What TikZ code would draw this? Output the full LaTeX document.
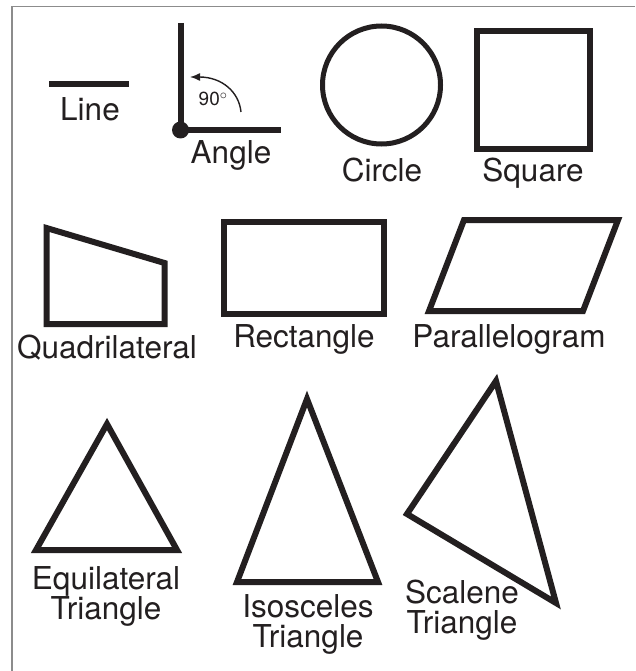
\documentclass[tikz,border=0pt]{standalone}
\usepackage{fontspec}
\setmainfont{TeX Gyre Heros}
\usetikzlibrary{arrows.meta}
\definecolor{ink}{HTML}{231F20}
\definecolor{frame}{HTML}{8C8C8C}
\tikzset{
  shapeline/.style={draw=ink, line width=6pt, line join=miter},
  lbl/.style={text=ink, inner sep=0pt, anchor=base, align=center,
    font=\fontsize{31.5}{30}\selectfont},
  small/.style={text=ink, inner sep=0pt, anchor=base west,
    font=\fontsize{19}{19}\selectfont},
}
\begin{document}
\begin{tikzpicture}[x=1pt,y=-1pt]
\useasboundingbox (0,0) rectangle (635,671);
\fill[white] (0,0) rectangle (635,671);
% frame (top and left only)
\coordinate (ftl) at (12,6.5);
\coordinate (ftr) at (635,6.5);
\coordinate (fbl) at (12,671);
\draw[frame, line width=1.8pt] (ftr) -- (ftl) -- (fbl);

% Line
\coordinate (l1) at (49,84.5);
\coordinate (l2) at (129,84.5);
\draw[shapeline] (l1) -- (l2);
\node[lbl] (tline) at (90,121) {Line};

% Angle
\coordinate (av) at (180.5,130);
\coordinate (atop) at (180.5,23);
\coordinate (aright) at (281,130);
\draw[shapeline] (atop) -- (av) -- (aright);
\fill[ink] (av) circle [radius=8.5pt];
\coordinate (arcs) at (241,112);
\coordinate (arce) at (190,77);
\draw[ink, line width=1.4pt, -{Latex[length=10pt,width=8pt]}] (arcs) .. controls (239,92) and (222,77) .. (arce);
\node[small] (t90) at (198.5,106) {90$^{\circ}$};
\node[lbl] (tangle) at (231,164) {Angle};

% Circle
\coordinate (cc) at (381.5,85);
\draw[draw=ink, line width=5pt] (cc) circle [radius=59pt];
\node[lbl] (tcircle) at (382,182) {Circle};

% Square
\draw[shapeline] (477,31) rectangle (590,149);
\node[lbl] (tsquare) at (533,182) {Square};

% Quadrilateral
\draw[shapeline] (46.5,228) -- (164.5,263) -- (164.5,324) -- (46.5,324) -- cycle;
\node[lbl] (tquad) at (107,358) {Quadrilateral};

% Rectangle
\draw[shapeline] (224,222) rectangle (384,313.5);
\node[lbl] (trect) at (304,347) {Rectangle};

% Parallelogram
\draw[shapeline] (464,220) -- (618,220) -- (583,311) -- (429,311) -- cycle;
\node[lbl] (tpar) at (509,347) {Parallelogram};

% Equilateral triangle
\draw[shapeline] (107,424) -- (177,550) -- (36,550) -- cycle;
\node[lbl] (teq) at (106,619) {Equilateral\\Triangle};

% Isosceles triangle
\draw[shapeline] (307,399) -- (378,582) -- (237,582) -- cycle;
\node[lbl] (tiso) at (308,647) {Isosceles\\Triangle};

% Scalene triangle
\draw[shapeline] (496,381) -- (556,603) -- (407,514) -- cycle;
\node[lbl] (tsca) at (462,633) {Scalene\\Triangle};
\end{tikzpicture}
\end{document}
